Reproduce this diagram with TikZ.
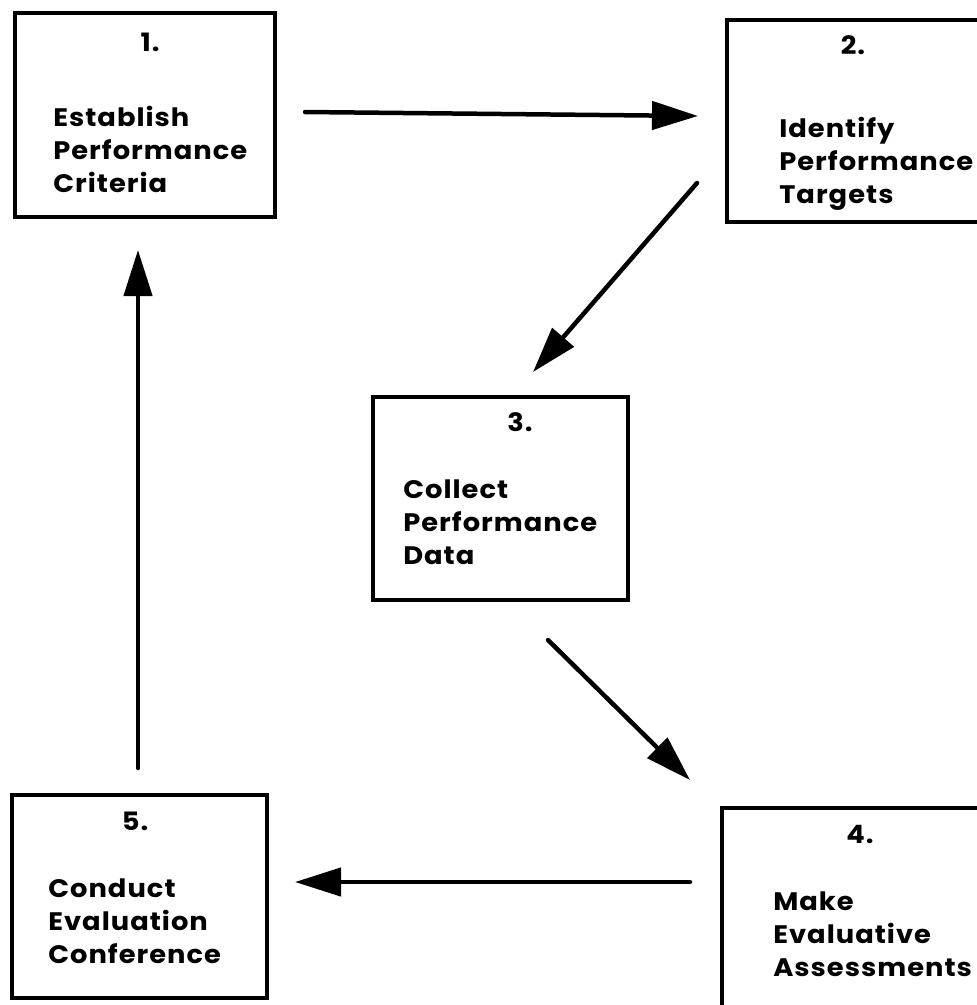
\documentclass[tikz,border=0pt]{standalone}
\usepackage{fontspec}
\setmainfont{Poppins}[FakeStretch=1.08,LetterSpace=4]
\usetikzlibrary{arrows.meta}
\tikzset{
	frame/.style={draw=black, line width=2.6pt},
	flow/.style={draw=black, line width=3.2pt, line cap=round, -{Triangle[length=11.5mm,width=7mm]}},
	num/.style={black, inner sep=0pt, font=\bfseries\fontsize{18}{22}\selectfont},
	stage/.style={black, anchor=north west, inner sep=0pt, align=left, font=\bfseries\fontsize{18}{23.5}\selectfont}
}
\begin{document}
\begin{tikzpicture}[x=0.25mm, y=-0.25mm]
	\useasboundingbox (0,0) rectangle (976,1005);
	% boxes
	\draw[frame] (15,13) rectangle (275,217);
	\draw[frame] (727,20) rectangle (1000,222);
	\draw[frame] (373,397) rectangle (628,600);
	\draw[frame] (722,808) rectangle (1000,1030);
	\draw[frame] (12,795) rectangle (267,998);
	% labels
	\node[num] (n1) at (150,42) {1.};
	\node[num] (n2) at (853,45) {2.};
	\node[num] (n3) at (520,422) {3.};
	\node[num] (n4) at (860,834) {4.};
	\node[num] (n5) at (135,821) {5.};
	\node[stage] (t1) at (53,106) {Establish\\Performance\\Criteria};
	\node[stage] (t2) at (779,117) {Identify\\Performance\\Targets};
	\node[stage] (t3) at (403,479) {Collect\\Performance\\Data};
	\node[stage] (t4) at (773,891) {Make\\Evaluative\\Assessments};
	\node[stage] (t5) at (48,878) {Conduct\\Evaluation\\Conference};
	% arrow ends
	\coordinate (a12) at (305,112);
	\coordinate (b12) at (698,116);
	\coordinate (a23) at (697,183);
	\coordinate (b23) at (533,372);
	\coordinate (a34) at (548,640);
	\coordinate (b34) at (690,780);
	\coordinate (a45) at (690,882);
	\coordinate (b45) at (295,882);
	\coordinate (a51) at (138,768);
	\coordinate (b51) at (138,250);
	\draw[flow] (a12) -- (b12);
	\draw[flow] (a23) -- (b23);
	\draw[flow] (a34) -- (b34);
	\draw[flow] (a45) -- (b45);
	\draw[flow] (a51) -- (b51);
\end{tikzpicture}
\end{document}
